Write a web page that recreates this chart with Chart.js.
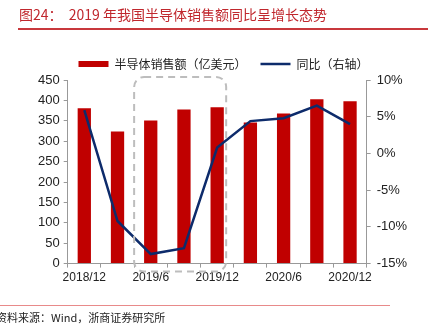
<!DOCTYPE html>
<html>
<head>
<meta charset="utf-8">
<script src="https://cdn.jsdelivr.net/npm/chart.js@4/dist/chart.umd.min.js"></script>
<style>
  html, body { margin: 0; padding: 0; background: #fff; }
  .chartBox { position: relative; width: 437px; height: 331px; }
</style>
</head>
<body>
<div class="chartBox"><canvas id="semiChart"></canvas></div>
<script>
// quarterly data
const categories = ["2018/12", "2019/3", "2019/6", "2019/9", "2019/12", "2020/3", "2020/6", "2020/9", "2020/12"];
const salesValues = [381, 324, 351, 378, 383, 346, 368, 403, 398];
const yoyValues = [5.9, -9.2, -13.7, -12.9, 0.8, 4.4, 4.8, 6.5, 4.0];
const leftTicks = [0, 50, 100, 150, 200, 250, 300, 350, 400, 450];
const rightTicks = [-15, -10, -5, 0, 5, 10];
const titleText = "图24：  2019 年我国半导体销售额同比呈增长态势";
const sourceText = "资料来源：Wind，浙商证券研究所";

// dashed rounded box around 2019 trough
const highlightBox = {
  id: "highlightBox",
  afterDatasetsDraw(chart) {
    const x = chart.scales.x;
    const area = chart.chartArea;
    const left = (x.getPixelForValue(1) + x.getPixelForValue(2)) / 2;
    const right = x.getPixelForValue(4) + 9;
    const top = area.top - 3;
    const bottom = area.bottom + 8;
    const c = chart.ctx;
    c.save();
    c.strokeStyle = "#bdbdbd";
    c.lineWidth = 2;
    c.setLineDash([7, 5]);
    c.beginPath();
    c.roundRect(left, top, right - left, bottom - top, 10);
    c.stroke();
    c.restore();
  }
};

// report header and footer
const frameText = {
  id: "frameText",
  afterDraw(chart) {
    const c = chart.ctx;
    c.save();
    c.setLineDash([]);
    c.globalAlpha = 1;
    c.fillStyle = "#c8383c";
    c.fillRect(18, 28, 410, 2);
    c.fillStyle = "#e88a8a";
    c.fillRect(0, 305, 390, 1);
    c.textAlign = "left";
    c.textBaseline = "middle";
    c.fillStyle = "#c0272d";
    c.font = "14px 'Noto Sans CJK SC', serif";
    c.fillText(titleText, 19, 15);
    c.fillStyle = "#222";
    c.font = "11px 'Noto Sans CJK SC', serif";
    c.fillText(sourceText, -4, 318);
    c.restore();
  }
};

new Chart(document.getElementById("semiChart"), {
  data: {
    labels: categories,
    datasets: [
      {
        type: "line",
        label: "同比（右轴）",
        data: yoyValues,
        yAxisID: "y1",
        borderColor: "#0d2b6b",
        backgroundColor: "#0d2b6b",
        borderWidth: 2.5,
        pointRadius: 0,
        pointStyle: "line",
        tension: 0,
        order: 0
      },
      {
        type: "bar",
        label: "半导体销售额（亿美元）",
        data: salesValues,
        yAxisID: "y",
        backgroundColor: "#c00000",
        pointStyle: "rect",
        barPercentage: 0.4,
        categoryPercentage: 1,
        order: 1
      }
    ]
  },
  options: {
    responsive: true,
    maintainAspectRatio: false,
    animation: false,
    layout: { padding: { left: 34, right: 24, top: 44, bottom: 43 } },
    plugins: {
      legend: {
        reverse: true,
        labels: {
          usePointStyle: true,
          pointStyleWidth: 30,
          boxHeight: 6,
          padding: 14,
          color: "#222",
          font: { family: "'Noto Sans CJK SC', sans-serif", size: 12 }
        }
      },
      tooltip: { enabled: false }
    },
    scales: {
      x: {
        offset: true,
        border: { color: "#999" },
        grid: { display: true, drawOnChartArea: false, offset: true, tickLength: 4, color: "#999" },
        ticks: {
          autoSkip: false,
          maxRotation: 0,
          color: "#222",
          font: { family: "'Liberation Sans', Arial", size: 12 },
          callback: (v, i) => (i % 2 === 0 ? categories[i] : "")
        }
      },
      y: {
        position: "left",
        min: 0,
        max: 450,
        afterBuildTicks: s => { s.ticks = leftTicks.map(v => ({ value: v })); },
        border: { color: "#999" },
        grid: { drawOnChartArea: false, tickLength: 4, color: "#999" },
        ticks: { color: "#222", font: { family: "'Liberation Sans', Arial", size: 13 }, padding: 4 }
      },
      y1: {
        position: "right",
        min: -15,
        max: 10,
        afterBuildTicks: s => { s.ticks = rightTicks.map(v => ({ value: v })); },
        border: { color: "#999" },
        grid: { drawOnChartArea: false, tickLength: 4, color: "#999" },
        ticks: { color: "#222", font: { family: "'Liberation Sans', Arial", size: 13 }, padding: 6, callback: v => v + "%" }
      }
    }
  },
  plugins: [highlightBox, frameText]
});
</script>
</body>
</html>
